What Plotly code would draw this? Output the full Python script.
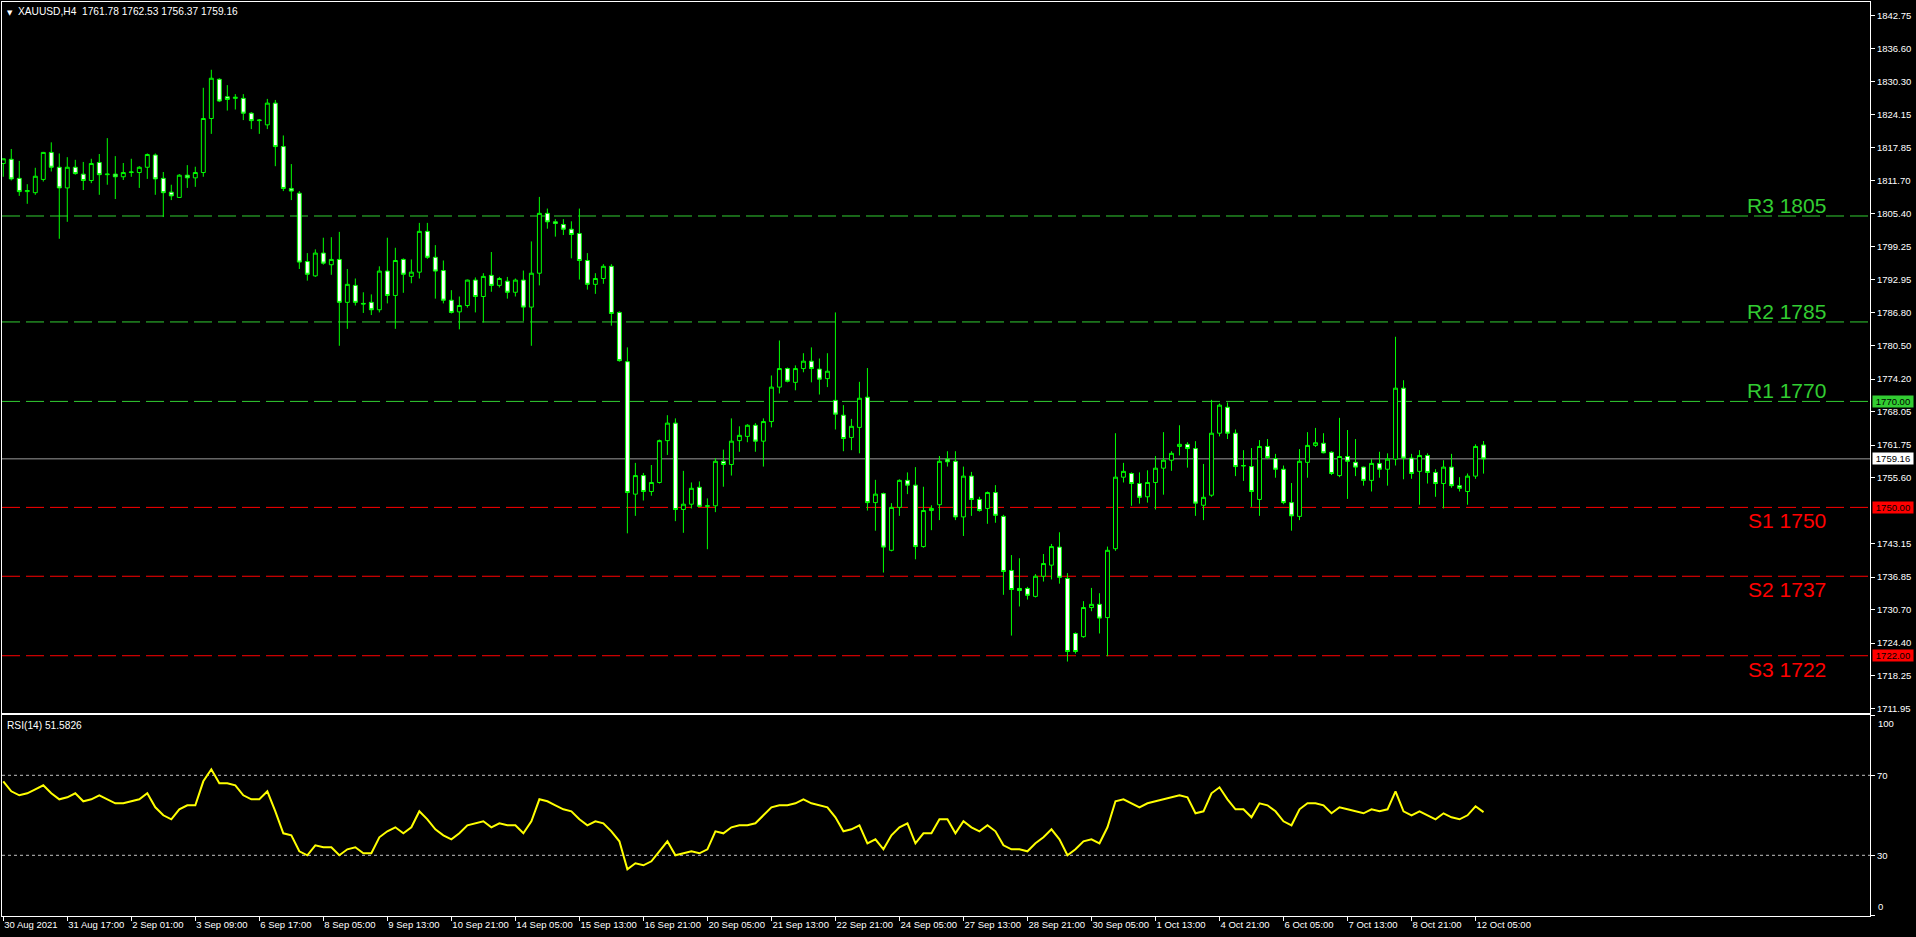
import plotly.graph_objects as go

symbol = "XAUUSD,H4"

opens = [1814.9, 1815.7, 1812.1, 1809.6, 1809.4, 1811.9, 1817.0, 1814.2, 1810.3, 1814.2,
         1812.9, 1811.7, 1815.1, 1812.8, 1812.9, 1812.4, 1813.2, 1813.2, 1814.2, 1816.5,
         1812.1, 1809.5, 1808.5, 1812.7, 1812.2, 1813.2, 1823.4, 1830.8, 1827.5, 1827.2,
         1827.2, 1824.4, 1823.0, 1822.2, 1826.3, 1818.1, 1810.2, 1809.3, 1796.4, 1793.7,
         1798.0, 1795.8, 1796.8, 1788.7, 1791.9, 1788.5, 1788.7, 1787.3, 1794.6, 1790.0,
         1796.8, 1793.6, 1794.4, 1802.1, 1797.2, 1794.7, 1789.1, 1786.9, 1788.1, 1792.9,
         1789.8, 1793.8, 1791.9, 1792.7, 1790.6, 1792.9, 1787.8, 1794.2, 1805.5, 1803.9,
         1803.4, 1802.5, 1801.7, 1796.6, 1792.1, 1793.2, 1795.5, 1786.8, 1777.5, 1752.5,
         1756.0, 1753.0, 1754.7, 1762.6, 1765.9, 1749.6, 1750.6, 1753.8, 1750.2, 1750.3,
         1758.7, 1758.1, 1762.6, 1763.4, 1765.5, 1762.5, 1766.2, 1772.7, 1776.2, 1773.6,
         1776.2, 1777.6, 1776.1, 1774.3, 1770.2, 1767.4, 1763.2, 1765.1, 1770.8, 1750.9,
         1752.6, 1741.9, 1750.0, 1755.1, 1754.2, 1742.6, 1749.4, 1750.5, 1759.1, 1758.7,
         1748.2, 1755.9, 1751.5, 1749.8, 1752.8, 1748.3, 1738.1, 1734.7, 1734.7, 1733.2,
         1737.0, 1739.1, 1742.5, 1736.6, 1726.2, 1725.6, 1731.1, 1731.7, 1729.2, 1742.2,
         1755.7, 1756.4, 1754.5, 1752.0, 1754.7, 1757.4, 1758.9, 1761.5, 1761.9, 1761.1,
         1750.4, 1752.3, 1764.0, 1768.9, 1764.0, 1757.8, 1757.7, 1751.5, 1761.5, 1759.2,
         1757.2, 1750.9, 1748.3, 1758.5, 1761.7, 1762.1, 1760.4, 1756.0, 1759.6, 1758.5,
         1757.6, 1755.1, 1758.3, 1757.2, 1759.1, 1772.5, 1759.3, 1756.8, 1759.8, 1756.6,
         1754.5, 1757.6, 1754.1, 1753.0, 1755.9, 1761.78]

highs = [1815.8, 1817.65, 1815.4, 1811.0, 1814.1, 1817.1, 1818.9, 1816.8, 1816.1, 1815.6,
         1815.2, 1815.8, 1816.7, 1819.7, 1816.3, 1815.0, 1815.8, 1814.4, 1816.8, 1816.8,
         1813.3, 1810.9, 1812.9, 1814.6, 1814.3, 1829.2, 1832.6, 1831.0, 1829.7, 1828.0,
         1828.0, 1824.6, 1823.3, 1827.1, 1826.9, 1820.2, 1814.8, 1809.7, 1798.0, 1798.7,
         1800.9, 1801.0, 1802.0, 1795.0, 1793.2, 1790.6, 1790.2, 1795.5, 1800.9, 1799.0,
         1797.0, 1796.8, 1803.7, 1803.7, 1799.5, 1796.6, 1791.0, 1789.8, 1793.0, 1793.4,
         1794.2, 1798.2, 1793.5, 1793.5, 1793.2, 1794.7, 1800.2, 1808.6, 1806.4, 1804.4,
         1804.4, 1804.0, 1806.4, 1798.0, 1794.2, 1795.9, 1795.9, 1787.0, 1780.2, 1758.4,
         1756.5, 1758.0, 1762.8, 1767.4, 1766.8, 1756.9, 1754.7, 1754.9, 1751.7, 1759.3,
         1760.9, 1766.8, 1765.3, 1765.7, 1765.9, 1766.8, 1774.9, 1781.5, 1776.4, 1776.8,
         1779.1, 1780.2, 1778.1, 1779.1, 1786.8, 1769.3, 1766.7, 1773.7, 1776.3, 1755.2,
         1752.8, 1750.8, 1755.3, 1756.6, 1757.6, 1753.9, 1750.4, 1759.7, 1760.6, 1760.6,
         1757.7, 1756.7, 1752.0, 1753.0, 1754.2, 1748.6, 1741.0, 1740.4, 1735.0, 1737.4,
         1741.2, 1743.1, 1745.3, 1737.6, 1726.4, 1732.3, 1734.8, 1733.8, 1742.6, 1764.0,
         1758.4, 1756.6, 1756.6, 1757.0, 1759.7, 1764.2, 1760.6, 1765.5, 1762.3, 1762.5,
         1758.2, 1770.3, 1769.6, 1769.8, 1764.7, 1760.8, 1761.2, 1762.7, 1762.9, 1760.1,
         1757.9, 1754.6, 1761.0, 1764.2, 1765.0, 1764.0, 1760.6, 1766.9, 1764.6, 1762.9,
         1757.7, 1759.1, 1760.5, 1760.2, 1782.2, 1774.0, 1760.1, 1760.8, 1760.2, 1757.2,
         1758.9, 1760.1, 1755.7, 1756.4, 1761.9, 1762.53]

lows = [1812.4, 1811.7, 1808.8, 1807.3, 1809.0, 1811.5, 1813.4, 1800.7, 1803.9, 1812.8,
        1809.9, 1811.2, 1809.0, 1810.9, 1808.2, 1811.8, 1812.4, 1810.3, 1812.0, 1809.0,
        1804.8, 1808.0, 1808.4, 1810.3, 1810.5, 1812.4, 1820.5, 1826.5, 1824.9, 1825.1,
        1823.1, 1821.4, 1820.5, 1821.4, 1814.4, 1809.7, 1808.0, 1795.0, 1792.8, 1793.5,
        1795.8, 1793.9, 1780.5, 1783.7, 1788.1, 1786.7, 1786.3, 1786.8, 1788.5, 1783.7,
        1790.5, 1792.3, 1793.2, 1796.9, 1789.4, 1788.5, 1786.6, 1783.6, 1787.7, 1786.8,
        1784.9, 1790.7, 1791.5, 1789.4, 1789.8, 1785.2, 1780.5, 1791.9, 1802.6, 1801.1,
        1801.4, 1797.0, 1793.0, 1791.1, 1790.3, 1792.2, 1784.3, 1777.5, 1745.1, 1748.4,
        1751.3, 1752.2, 1754.5, 1759.9, 1747.4, 1745.2, 1749.8, 1750.0, 1742.1, 1749.1,
        1753.9, 1756.0, 1760.5, 1762.3, 1760.5, 1757.7, 1765.1, 1771.5, 1773.6, 1772.1,
        1775.5, 1773.6, 1771.3, 1772.7, 1764.7, 1760.6, 1760.8, 1760.2, 1749.4, 1745.6,
        1737.7, 1741.7, 1748.4, 1752.5, 1740.2, 1742.4, 1745.7, 1747.6, 1757.7, 1747.6,
        1744.6, 1748.4, 1749.2, 1746.9, 1747.1, 1733.5, 1725.8, 1731.3, 1732.6, 1733.0,
        1736.0, 1736.4, 1735.6, 1720.9, 1722.4, 1725.4, 1730.4, 1726.2, 1721.9, 1741.8,
        1754.7, 1750.3, 1750.7, 1750.9, 1749.6, 1752.4, 1756.9, 1759.8, 1757.5, 1748.4,
        1747.6, 1752.0, 1763.4, 1762.9, 1755.9, 1755.0, 1750.1, 1748.4, 1759.1, 1755.6,
        1750.6, 1745.6, 1747.6, 1755.6, 1761.4, 1760.2, 1756.1, 1755.7, 1751.6, 1755.9,
        1754.1, 1753.0, 1755.6, 1754.1, 1757.9, 1755.3, 1755.4, 1750.5, 1754.5, 1752.0,
        1749.8, 1753.7, 1753.0, 1750.5, 1755.4, 1756.37]

closes = [1815.8, 1812.0, 1809.6, 1809.8, 1812.5, 1817.0, 1814.2, 1810.3, 1814.2, 1813.0,
          1811.7, 1814.9, 1812.8, 1812.9, 1812.4, 1813.2, 1813.3, 1814.2, 1816.6, 1812.0,
          1809.4, 1808.8, 1812.7, 1812.2, 1813.2, 1823.4, 1831.0, 1826.7, 1827.0, 1827.4,
          1824.4, 1823.0, 1823.1, 1826.3, 1818.1, 1810.2, 1809.7, 1796.3, 1794.0, 1798.0,
          1796.1, 1796.8, 1788.7, 1792.1, 1788.7, 1788.4, 1787.3, 1794.6, 1790.0, 1796.6,
          1794.0, 1794.4, 1802.1, 1797.2, 1794.6, 1789.1, 1786.8, 1788.1, 1792.9, 1789.8,
          1793.6, 1791.9, 1793.2, 1790.6, 1792.9, 1787.8, 1794.2, 1805.5, 1803.9, 1803.6,
          1802.5, 1801.5, 1796.6, 1792.1, 1793.2, 1795.5, 1786.6, 1777.7, 1752.8, 1756.0,
          1753.0, 1754.7, 1762.6, 1765.9, 1749.6, 1750.6, 1753.6, 1750.2, 1750.3, 1758.7,
          1758.1, 1762.5, 1763.6, 1765.5, 1762.5, 1766.2, 1772.7, 1776.2, 1773.8, 1776.2,
          1777.6, 1776.2, 1774.2, 1775.7, 1767.6, 1763.0, 1765.3, 1770.6, 1750.9, 1752.5,
          1742.5, 1750.0, 1755.1, 1754.2, 1742.6, 1749.4, 1749.8, 1758.7, 1758.6, 1748.2,
          1755.9, 1751.5, 1749.4, 1752.8, 1748.5, 1737.9, 1734.5, 1734.3, 1733.4, 1737.0,
          1739.4, 1742.6, 1736.8, 1722.8, 1722.8, 1731.1, 1731.7, 1729.1, 1741.9, 1755.7,
          1756.8, 1754.5, 1751.9, 1754.7, 1757.4, 1758.9, 1760.2, 1761.9, 1761.1, 1750.8,
          1751.9, 1764.0, 1769.3, 1764.0, 1757.7, 1757.9, 1753.0, 1761.5, 1759.4, 1757.2,
          1750.9, 1748.4, 1758.7, 1761.7, 1762.2, 1760.3, 1756.4, 1759.6, 1758.7, 1757.6,
          1755.1, 1758.3, 1757.2, 1759.1, 1772.5, 1759.3, 1756.4, 1759.8, 1756.6, 1754.5,
          1757.6, 1754.1, 1753.6, 1755.9, 1761.5, 1759.16]

rsi = [67, 62, 60, 61, 63, 65, 61, 58, 59, 61,
       57, 58, 60, 58, 56, 56, 57, 58, 61, 54,
       50, 48, 53, 55, 55, 67, 73, 66, 66, 65,
       60, 58, 58, 62, 52, 41, 40, 32, 30, 35,
       34, 34, 30, 33, 34, 31, 31, 39, 42, 44,
       41, 44, 52, 48, 43, 40, 38, 41, 45, 46,
       47, 44, 46, 45, 45, 41, 47, 58, 57, 55,
       53, 52, 48, 45, 47, 46, 42, 37, 23, 26,
       25, 27, 32, 37, 30, 31, 32, 31, 33, 42,
       41, 44, 45, 45, 46, 50, 54, 55, 55, 56,
       58, 56, 55, 54, 49, 42, 43, 45, 36, 38,
       33, 40, 44, 46, 36, 41, 41, 48, 48, 41,
       47, 44, 42, 45, 42, 35, 33, 33, 32, 36,
       39, 43, 38, 30, 33, 37, 38, 36, 44, 57,
       58, 56, 54, 56, 57, 58, 59, 60, 59, 51,
       52, 61, 64, 58, 53, 53, 49, 56, 55, 52,
       47, 45, 53, 56, 56, 55, 51, 54, 53, 52,
       51, 53, 52, 53, 62, 52, 50, 52, 50, 48,
       51, 49, 48, 50, 54.5, 51.5826]

time_labels = ["30 Aug 2021", "31 Aug 17:00", "2 Sep 01:00", "3 Sep 09:00", "6 Sep 17:00",
               "8 Sep 05:00", "9 Sep 13:00", "10 Sep 21:00", "14 Sep 05:00", "15 Sep 13:00",
               "16 Sep 21:00", "20 Sep 05:00", "21 Sep 13:00", "22 Sep 21:00", "24 Sep 05:00",
               "27 Sep 13:00", "28 Sep 21:00", "30 Sep 05:00", "1 Oct 13:00", "4 Oct 21:00",
               "6 Oct 05:00", "7 Oct 13:00", "8 Oct 21:00", "12 Oct 05:00"]
bars_per_label = 8

price_ticks = [1842.75, 1836.60, 1830.30, 1824.15, 1817.85, 1811.70, 1805.40, 1799.25,
               1792.95, 1786.80, 1780.50, 1774.20, 1768.05, 1761.75, 1755.60,
               1743.15, 1736.85, 1730.70, 1724.40, 1718.25, 1711.95]
rsi_ticks = [0, 30, 70, 100]
rsi_levels = [30, 70]
rsi_period = 14

level_names = ["R3", "R2", "R1", "S1", "S2", "S3"]
level_values = [1805, 1785, 1770, 1750, 1737, 1722]
level_colors = ["#32CD32", "#32CD32", "#32CD32", "#FF0000", "#FF0000", "#FF0000"]

box_values = [1770.00, closes[-1], 1750.00, 1722.00]
box_colors = ["#32CD32", "#FFFFFF", "#FF0000", "#FF0000"]

x = list(range(len(opens)))
label_pos = [i * bars_per_label for i in range(len(time_labels))]

FONT = "Liberation Sans, Arial"
small_font = dict(family=FONT, size=9.5, color="#FFFFFF")
info_font = dict(family=FONT, size=10.2, color="#FFFFFF")

fig = go.Figure()
fig.add_trace(go.Candlestick(
    x=x, open=opens, high=highs, low=lows, close=closes,
    increasing=dict(line=dict(color="#00FF00", width=1), fillcolor="#000000"),
    decreasing=dict(line=dict(color="#00FF00", width=1), fillcolor="#FFFFFF"),
    whiskerwidth=0, showlegend=False, xaxis="x", yaxis="y", name=symbol))
fig.add_trace(go.Scatter(
    x=x, y=rsi, mode="lines", line=dict(color="#FFFF00", width=2),
    showlegend=False, xaxis="x2", yaxis="y2", name="RSI"))

for name, val, col in zip(level_names, level_values, level_colors):
    fig.add_shape(type="line", xref="x domain", x0=0, x1=1, yref="y", y0=val, y1=val,
                  line=dict(color=col, width=1, dash="18px,6px"), layer="below")
    is_res = name.startswith("R")
    fig.add_annotation(xref="x domain", x=1, xanchor="right", xshift=-42,
                       yref="y", y=val, yanchor="bottom" if is_res else "top",
                       yshift=-3 if is_res else 0,
                       text=f"{name} {val}", showarrow=False,
                       font=dict(family=FONT, size=21, color=col))

fig.add_shape(type="line", xref="x domain", x0=0, x1=1, yref="y", y0=closes[-1], y1=closes[-1],
              line=dict(color="#9A9A9A", width=1), layer="below")

for lv in rsi_levels:
    fig.add_shape(type="line", xref="x2 domain", x0=0, x1=1, yref="y2", y0=lv, y1=lv,
                  line=dict(color="#C0C0C0", width=1, dash="3px,3px"), layer="below")

for val, col in zip(box_values, box_colors):
    fig.add_annotation(xref="paper", x=1, xanchor="left", xshift=2, yref="y", y=val,
                       text=f"{val:.2f}", showarrow=False, bgcolor=col, width=40, height=11,
                       borderpad=0, font=dict(family=FONT, size=9.5, color="#000000"))

# RSI 100 / 0 labels sit inside the panel, as in the terminal
fig.add_annotation(xref="paper", x=1, xanchor="left", xshift=6, yref="y2", y=rsi_ticks[-1],
                   yanchor="top", yshift=-1, text=str(rsi_ticks[-1]), showarrow=False,
                   font=small_font)
fig.add_annotation(xref="paper", x=1, xanchor="left", xshift=6, yref="y2", y=rsi_ticks[0],
                   yanchor="bottom", yshift=1, text=str(rsi_ticks[0]), showarrow=False,
                   font=small_font)

fig.add_annotation(xref="x domain", x=0, xanchor="left", xshift=3, yref="y domain", y=1,
                   yanchor="top", yshift=-5, text="▼", showarrow=False,
                   font=dict(family="DejaVu Sans", size=7, color="#FFFFFF"))
fig.add_annotation(xref="x domain", x=0, xanchor="left", xshift=14, yref="y domain", y=1,
                   yanchor="top", yshift=-2,
                   text=f"{symbol}  {opens[-1]:.2f} {highs[-1]:.2f} {lows[-1]:.2f} {closes[-1]:.2f}",
                   showarrow=False, font=info_font)
fig.add_annotation(xref="x2 domain", x=0, xanchor="left", xshift=3, yref="y2 domain", y=1,
                   yanchor="top", yshift=-3, text=f"RSI({rsi_period}) {rsi[-1]:.4f}",
                   showarrow=False, font=info_font)

axis_common = dict(showline=True, mirror=True, linecolor="#FFFFFF", linewidth=1,
                   showgrid=False, zeroline=False, tickfont=small_font,
                   tickcolor="#FFFFFF", ticklen=4, tickwidth=1)

fig.update_layout(
    width=1916, height=937,
    paper_bgcolor="#000000", plot_bgcolor="#000000",
    margin=dict(l=2, r=46, t=2, b=21),
    showlegend=False,
    xaxis=dict(domain=[0, 1], anchor="y", range=[-0.16, 233.3], showticklabels=False,
               ticks="", rangeslider=dict(visible=False), **axis_common),
    yaxis=dict(domain=[0.2221, 1], anchor="x", side="right", range=[1711.19, 1845.39],
               tickvals=price_ticks, ticktext=[f"{v:.2f}" for v in price_ticks],
               ticks="outside", **axis_common),
    xaxis2=dict(domain=[0, 1], anchor="y2", matches="x", tickvals=label_pos,
                ticktext=time_labels, ticks="outside", ticklabelposition="outside right",
                tickangle=0, **axis_common),
    yaxis2=dict(domain=[0, 0.2199], anchor="x2", side="right", range=[-0.35, 100.15],
                tickvals=rsi_ticks, ticktext=["", "30", "70", ""], ticks="outside",
                **axis_common),
)

fig.write_html("out.html", config={"displayModeBar": False},
               post_script="document.body.style.margin='0';document.body.style.overflow='hidden';")
